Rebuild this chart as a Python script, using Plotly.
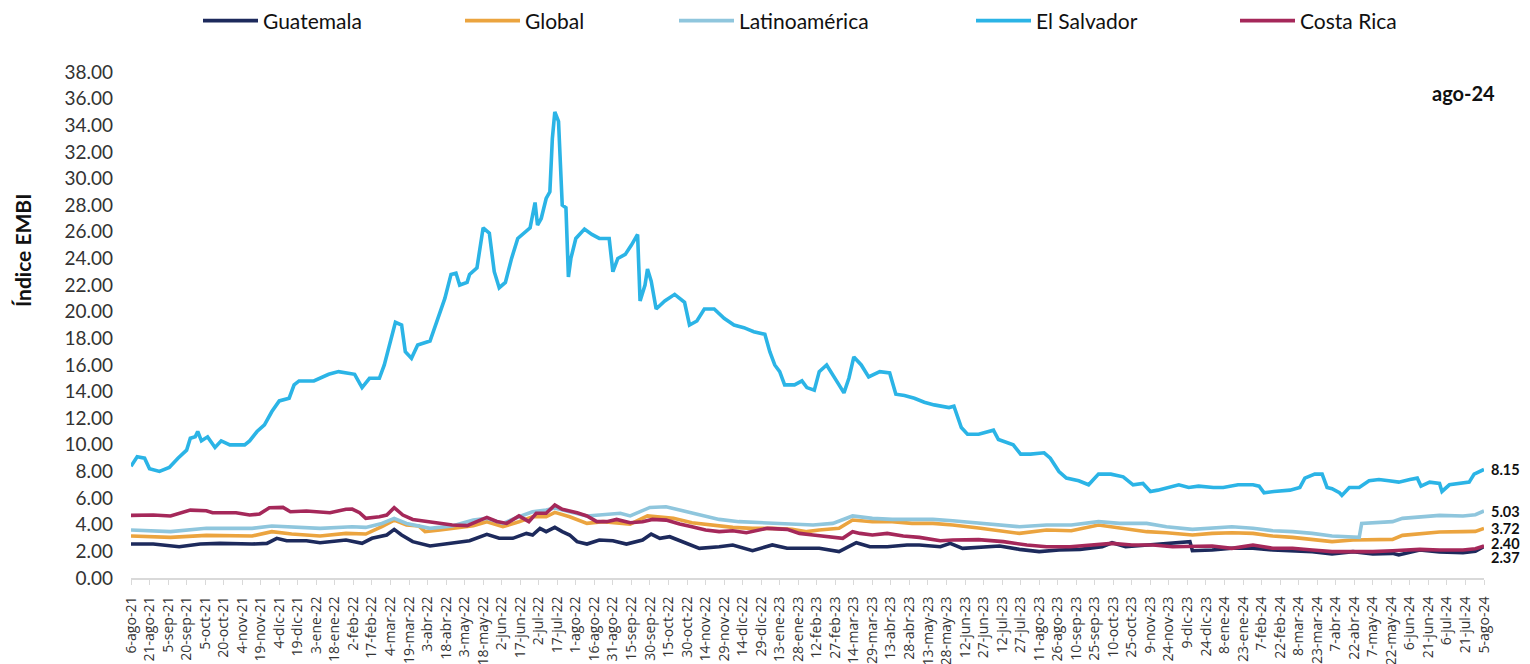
import plotly.graph_objects as go
import pandas as pd

# ---------------- data ----------------
tick_labels = [
    "6-ago-21", "21-ago-21", "5-sep-21", "20-sep-21", "5-oct-21", "20-oct-21", "4-nov-21", "19-nov-21", "4-dic-21", "19-dic-21",
    "3-ene-22", "18-ene-22", "2-feb-22", "17-feb-22", "4-mar-22", "19-mar-22", "3-abr-22", "18-abr-22", "3-may-22", "18-may-22",
    "2-jun-22", "17-jun-22", "2-jul-22", "17-jul-22", "1-ago-22", "16-ago-22", "31-ago-22", "15-sep-22", "30-sep-22", "15-oct-22",
    "30-oct-22", "14-nov-22", "29-nov-22", "14-dic-22", "29-dic-22",
    "13-ene-23", "28-ene-23", "12-feb-23", "27-feb-23", "14-mar-23", "29-mar-23", "13-abr-23", "28-abr-23", "13-may-23", "28-may-23",
    "12-jun-23", "27-jun-23", "12-jul-23", "27-jul-23", "11-ago-23", "26-ago-23", "10-sep-23", "25-sep-23", "10-oct-23", "25-oct-23",
    "9-nov-23", "24-nov-23", "9-dic-23", "24-dic-23",
    "8-ene-24", "23-ene-24", "7-feb-24", "22-feb-24", "8-mar-24", "23-mar-24", "7-abr-24", "22-abr-24", "7-may-24", "22-may-24",
    "6-jun-24", "21-jun-24", "6-jul-24", "21-jul-24", "5-ago-24",
]
tick_start = "2021-08-06"
tick_step_days = 15
x_start = "2021-08-06"
x_end = "2024-08-05"

es_dates = ["2021-08-06", "2021-08-11", "2021-08-17", "2021-08-21", "2021-08-29", "2021-09-06", "2021-09-13", "2021-09-20",
            "2021-09-23", "2021-09-27", "2021-09-29", "2021-10-02", "2021-10-07", "2021-10-13", "2021-10-18", "2021-10-25",
            "2021-11-06", "2021-11-10", "2021-11-16", "2021-11-22", "2021-11-28", "2021-12-04", "2021-12-12", "2021-12-16",
            "2021-12-20", "2022-01-01", "2022-01-13", "2022-01-21", "2022-02-03", "2022-02-09", "2022-02-15", "2022-02-23",
            "2022-02-27", "2022-03-03", "2022-03-08", "2022-03-13", "2022-03-16", "2022-03-21", "2022-03-26", "2022-04-05",
            "2022-04-11", "2022-04-17", "2022-04-22", "2022-04-26", "2022-04-29", "2022-05-05", "2022-05-07", "2022-05-13",
            "2022-05-18", "2022-05-23", "2022-05-27", "2022-05-31", "2022-06-05", "2022-06-10", "2022-06-15", "2022-06-21",
            "2022-06-25", "2022-06-29", "2022-07-01", "2022-07-04", "2022-07-08", "2022-07-11", "2022-07-13", "2022-07-15",
            "2022-07-18", "2022-07-21", "2022-07-24", "2022-07-26", "2022-07-28", "2022-08-01", "2022-08-08", "2022-08-14",
            "2022-08-20", "2022-08-28", "2022-08-31", "2022-09-04", "2022-09-10", "2022-09-15", "2022-09-20", "2022-09-22",
            "2022-09-26", "2022-09-28", "2022-10-01", "2022-10-05", "2022-10-12", "2022-10-20", "2022-10-28", "2022-11-01",
            "2022-11-07", "2022-11-13", "2022-11-21", "2022-11-29", "2022-12-07", "2022-12-15", "2022-12-23", "2023-01-01",
            "2023-01-05", "2023-01-09", "2023-01-13", "2023-01-17", "2023-01-25", "2023-01-31", "2023-02-04", "2023-02-10",
            "2023-02-14", "2023-02-20", "2023-02-25", "2023-03-02", "2023-03-06", "2023-03-10", "2023-03-14", "2023-03-20",
            "2023-03-26", "2023-04-04", "2023-04-12", "2023-04-17", "2023-04-24", "2023-05-02", "2023-05-10", "2023-05-18",
            "2023-05-30", "2023-06-03", "2023-06-09", "2023-06-14", "2023-06-23", "2023-07-01", "2023-07-05", "2023-07-09",
            "2023-07-21", "2023-07-27", "2023-08-04", "2023-08-15", "2023-08-20", "2023-08-27", "2023-09-02", "2023-09-12",
            "2023-09-20", "2023-09-28", "2023-10-08", "2023-10-18", "2023-10-26", "2023-11-03", "2023-11-09", "2023-11-15",
            "2023-11-23", "2023-12-02", "2023-12-10", "2023-12-18", "2023-12-30", "2024-01-07", "2024-01-19", "2024-01-31",
            "2024-02-05", "2024-02-09", "2024-02-17", "2024-03-01", "2024-03-09", "2024-03-13", "2024-03-21", "2024-03-27",
            "2024-03-31", "2024-04-04", "2024-04-10", "2024-04-12", "2024-04-18", "2024-04-26", "2024-05-04", "2024-05-12",
            "2024-05-20", "2024-05-28", "2024-06-06", "2024-06-12", "2024-06-15", "2024-06-22", "2024-06-30", "2024-07-02",
            "2024-07-08", "2024-07-24", "2024-07-28", "2024-08-05"]
es_values = [8.4, 9.1, 9.0, 8.2, 8.0, 8.3, 9.0, 9.6,
             10.5, 10.6, 11.0, 10.3, 10.6, 9.8, 10.3, 10.0,
             10.0, 10.3, 11.0, 11.5, 12.5, 13.3, 13.5, 14.5,
             14.8, 14.8, 15.3, 15.5, 15.3, 14.3, 15.0, 15.0,
             16.0, 17.5, 19.2, 19.0, 17.0, 16.5, 17.5, 17.8,
             19.5, 21.0, 22.8, 22.9, 22.0, 22.2, 22.8, 23.3,
             26.3, 25.9, 23.0, 21.8, 22.2, 24.0, 25.5, 26.0,
             26.3, 28.2, 26.5, 27.0, 28.5, 29.0, 33.0, 35.0,
             34.3, 28.0, 27.8, 22.6, 24.0, 25.5, 26.2, 25.8,
             25.5, 25.5, 23.0, 24.0, 24.3, 25.0, 25.8, 20.8,
             22.0, 23.2, 22.3, 20.2, 20.8, 21.3, 20.7, 19.0,
             19.3, 20.2, 20.2, 19.5, 19.0, 18.8, 18.5, 18.3,
             17.0, 16.0, 15.5, 14.5, 14.5, 14.8, 14.3, 14.1,
             15.5, 16.0, 15.2, 14.5, 13.9, 15.0, 16.6, 16.0,
             15.1, 15.5, 15.4, 13.8, 13.7, 13.5, 13.2, 13.0,
             12.8, 12.9, 11.3, 10.8, 10.8, 11.0, 11.1, 10.4,
             10.0, 9.3, 9.3, 9.4, 9.0, 8.0, 7.5, 7.3,
             7.0, 7.8, 7.8, 7.6, 7.0, 7.1, 6.5, 6.6,
             6.8, 7.0, 6.8, 6.9, 6.8, 6.8, 7.0, 7.0,
             6.9, 6.4, 6.5, 6.6, 6.8, 7.5, 7.8, 7.8,
             6.8, 6.7, 6.4, 6.2, 6.8, 6.8, 7.3, 7.4,
             7.3, 7.2, 7.4, 7.5, 6.9, 7.2, 7.1, 6.5,
             7.0, 7.2, 7.8, 8.15]

cr_dates = ["2021-08-06", "2021-08-24", "2021-09-07", "2021-09-23", "2021-10-06", "2021-10-11", "2021-10-30", "2021-11-10",
            "2021-11-18", "2021-11-26", "2021-12-07", "2021-12-13", "2021-12-26", "2022-01-06", "2022-01-14", "2022-01-27",
            "2022-02-01", "2022-02-07", "2022-02-12", "2022-02-23", "2022-03-01", "2022-03-07", "2022-03-14", "2022-03-22",
            "2022-04-05", "2022-04-23", "2022-05-05", "2022-05-21", "2022-05-29", "2022-06-06", "2022-06-16", "2022-06-24",
            "2022-06-30", "2022-07-08", "2022-07-15", "2022-07-21", "2022-08-02", "2022-08-10", "2022-08-18", "2022-08-26",
            "2022-09-03", "2022-09-14", "2022-09-24", "2022-10-02", "2022-10-13", "2022-10-24", "2022-11-03", "2022-11-14",
            "2022-11-25", "2022-12-06", "2022-12-17", "2023-01-03", "2023-01-19", "2023-01-29", "2023-02-09", "2023-02-25",
            "2023-03-05", "2023-03-13", "2023-03-19", "2023-03-29", "2023-04-10", "2023-04-23", "2023-05-06", "2023-05-23",
            "2023-06-02", "2023-06-23", "2023-07-13", "2023-08-01", "2023-08-17", "2023-09-05", "2023-09-24", "2023-10-09",
            "2023-10-25", "2023-11-11", "2023-11-27", "2023-12-13", "2023-12-29", "2024-01-14", "2024-01-31", "2024-02-16",
            "2024-03-03", "2024-03-19", "2024-04-04", "2024-04-21", "2024-05-07", "2024-05-23", "2024-06-14", "2024-06-30",
            "2024-07-19", "2024-07-29", "2024-08-05"]
cr_values = [4.7, 4.73, 4.66, 5.1, 5.05, 4.9, 4.9, 4.73,
             4.8, 5.28, 5.3, 4.98, 5.03, 4.98, 4.9, 5.16,
             5.18, 4.9, 4.48, 4.6, 4.73, 5.28, 4.73, 4.4,
             4.23, 3.98, 3.93, 4.55, 4.25, 4.1, 4.66, 4.23,
             4.86, 4.86, 5.48, 5.16, 4.9, 4.66, 4.23, 4.23,
             4.4, 4.15, 4.23, 4.4, 4.35, 4.05, 3.85, 3.6,
             3.48, 3.55, 3.4, 3.73, 3.65, 3.35, 3.23, 3.1,
             2.98, 3.48, 3.35, 3.23, 3.35, 3.15, 3.05, 2.8,
             2.85, 2.88, 2.73, 2.48, 2.35, 2.35, 2.48, 2.6,
             2.48, 2.48, 2.35, 2.35, 2.4, 2.23, 2.48, 2.23,
             2.23, 2.1, 1.98, 1.98, 1.98, 2.05, 2.15, 2.1,
             2.1, 2.2, 2.40]

gt_dates = ["2021-08-06", "2021-08-24", "2021-09-14", "2021-10-01", "2021-10-17", "2021-11-12", "2021-11-24", "2021-12-02",
            "2021-12-10", "2021-12-26", "2022-01-06", "2022-01-27", "2022-02-09", "2022-02-17", "2022-03-01", "2022-03-07",
            "2022-03-13", "2022-03-22", "2022-04-05", "2022-04-23", "2022-05-07", "2022-05-21", "2022-05-31", "2022-06-11",
            "2022-06-22", "2022-06-27", "2022-07-03", "2022-07-08", "2022-07-15", "2022-07-21", "2022-07-27", "2022-08-02",
            "2022-08-10", "2022-08-20", "2022-08-31", "2022-09-11", "2022-09-24", "2022-10-01", "2022-10-08", "2022-10-16",
            "2022-10-29", "2022-11-09", "2022-11-25", "2022-12-06", "2022-12-22", "2023-01-07", "2023-01-19", "2023-01-31",
            "2023-02-14", "2023-03-02", "2023-03-16", "2023-03-27", "2023-04-10", "2023-04-26", "2023-05-06", "2023-05-23",
            "2023-05-31", "2023-06-10", "2023-06-23", "2023-07-10", "2023-07-26", "2023-08-11", "2023-08-27", "2023-09-13",
            "2023-10-01", "2023-10-09", "2023-10-20", "2023-11-06", "2023-11-27", "2023-12-11", "2023-12-13", "2023-12-29",
            "2024-01-14", "2024-01-31", "2024-02-16", "2024-03-03", "2024-03-19", "2024-04-04", "2024-04-21", "2024-05-07",
            "2024-05-23", "2024-05-28", "2024-06-14", "2024-06-30", "2024-07-19", "2024-07-29", "2024-08-05"]
gt_values = [2.55, 2.55, 2.35, 2.55, 2.6, 2.55, 2.6, 2.98,
             2.8, 2.8, 2.65, 2.85, 2.6, 2.98, 3.23, 3.65,
             3.23, 2.73, 2.4, 2.65, 2.8, 3.28, 2.98, 2.98,
             3.35, 3.23, 3.73, 3.48, 3.8, 3.48, 3.23, 2.73,
             2.55, 2.85, 2.8, 2.55, 2.85, 3.3, 2.98, 3.1,
             2.65, 2.23, 2.35, 2.48, 2.05, 2.48, 2.23, 2.23,
             2.23, 1.98, 2.65, 2.35, 2.35, 2.48, 2.48, 2.35,
             2.6, 2.23, 2.3, 2.4, 2.15, 1.98, 2.1, 2.15,
             2.35, 2.65, 2.35, 2.48, 2.6, 2.73, 2.05, 2.1,
             2.23, 2.23, 2.1, 2.05, 1.98, 1.8, 1.98, 1.8,
             1.85, 1.73, 2.1, 1.95, 1.9, 2.0, 2.37]

gl_dates = ["2021-08-06", "2021-09-07", "2021-10-06", "2021-11-12", "2021-11-28", "2021-12-14", "2022-01-06", "2022-01-27",
            "2022-02-12", "2022-02-25", "2022-03-07", "2022-03-17", "2022-03-27", "2022-04-01", "2022-04-13", "2022-04-23",
            "2022-05-10", "2022-05-21", "2022-06-03", "2022-06-16", "2022-06-27", "2022-07-08", "2022-07-15", "2022-07-27",
            "2022-08-10", "2022-08-23", "2022-09-06", "2022-09-14", "2022-09-28", "2022-10-08", "2022-10-19", "2022-11-03",
            "2022-11-19", "2022-12-06", "2022-12-22", "2023-01-07", "2023-01-23", "2023-02-04", "2023-02-14", "2023-03-02",
            "2023-03-13", "2023-03-29", "2023-04-14", "2023-04-30", "2023-05-17", "2023-06-02", "2023-06-23", "2023-07-10",
            "2023-07-26", "2023-08-17", "2023-09-06", "2023-09-28", "2023-10-20", "2023-11-06", "2023-11-22", "2023-12-13",
            "2023-12-29", "2024-01-14", "2024-01-31", "2024-02-16", "2024-03-03", "2024-03-19", "2024-04-04", "2024-04-21",
            "2024-05-07", "2024-05-23", "2024-05-31", "2024-06-14", "2024-06-30", "2024-07-19", "2024-07-29", "2024-08-05"]
gl_values = [3.15, 3.05, 3.2, 3.15, 3.48, 3.3, 3.15, 3.35,
             3.3, 3.85, 4.35, 3.98, 3.9, 3.48, 3.6, 3.73,
             3.93, 4.23, 3.85, 4.23, 4.6, 4.6, 4.93, 4.6,
             4.1, 4.23, 4.1, 4.05, 4.66, 4.6, 4.48, 4.15,
             3.98, 3.8, 3.73, 3.73, 3.65, 3.48, 3.6, 3.73,
             4.35, 4.23, 4.23, 4.1, 4.1, 3.98, 3.75, 3.55,
             3.35, 3.6, 3.55, 3.98, 3.73, 3.48, 3.4, 3.23,
             3.35, 3.4, 3.35, 3.15, 3.05, 2.9, 2.73, 2.85,
             2.85, 2.9, 3.2, 3.3, 3.45, 3.48, 3.5, 3.72]

la_dates = ["2021-08-06", "2021-09-07", "2021-10-06", "2021-11-12", "2021-11-28", "2022-01-06", "2022-02-01", "2022-02-12",
            "2022-02-25", "2022-03-07", "2022-03-17", "2022-04-05", "2022-04-23", "2022-05-10", "2022-05-21", "2022-06-03",
            "2022-06-16", "2022-06-27", "2022-07-08", "2022-07-15", "2022-07-27", "2022-08-10", "2022-08-20", "2022-09-06",
            "2022-09-14", "2022-09-30", "2022-10-13", "2022-10-24", "2022-11-09", "2022-11-25", "2022-12-11", "2022-12-27",
            "2023-01-13", "2023-01-29", "2023-02-09", "2023-02-25", "2023-03-13", "2023-03-29", "2023-04-14", "2023-04-30",
            "2023-05-17", "2023-06-02", "2023-06-23", "2023-07-10", "2023-07-26", "2023-08-17", "2023-09-06", "2023-09-28",
            "2023-10-15", "2023-11-06", "2023-11-22", "2023-12-13", "2023-12-29", "2024-01-14", "2024-01-31", "2024-02-16",
            "2024-03-03", "2024-03-19", "2024-04-04", "2024-04-26", "2024-04-28", "2024-05-23", "2024-05-31", "2024-06-14",
            "2024-06-30", "2024-07-19", "2024-07-29", "2024-08-05"]
la_values = [3.6, 3.48, 3.73, 3.73, 3.9, 3.73, 3.85, 3.8,
             4.1, 4.48, 4.1, 3.73, 3.9, 4.35, 4.48, 4.1,
             4.6, 4.98, 5.1, 5.25, 4.98, 4.66, 4.73, 4.86,
             4.66, 5.3, 5.35, 5.1, 4.73, 4.4, 4.23, 4.15,
             4.1, 3.98, 3.98, 4.1, 4.66, 4.48, 4.4, 4.4,
             4.4, 4.3, 4.1, 3.98, 3.85, 3.98, 3.98, 4.23,
             4.1, 4.1, 3.85, 3.65, 3.73, 3.85, 3.73, 3.55,
             3.48, 3.35, 3.15, 3.05, 4.1, 4.23, 4.48, 4.6,
             4.7, 4.66, 4.75, 5.03]

series_names = ["Guatemala", "Global", "Latinoamérica", "El Salvador", "Costa Rica"]
series_dates = [gt_dates, gl_dates, la_dates, es_dates, cr_dates]
series_values = [gt_values, gl_values, la_values, es_values, cr_values]
series_colors = ["#1d2a5c", "#eba43f", "#8fc6dd", "#2bb4e6", "#a5285a"]
end_labels = ["2.37", "3.72", "5.03", "8.15", "2.40"]
end_label_shift = [-11, 0, 0, 0, 3]

y_ticks = list(range(0, 40, 2))
period_label = "ago-24"
y_title = "Índice EMBI"

# ---------------- layout geometry (screen pixels; page body has an 8px margin) ----------------
OFF = 8
W, H = 1530 - OFF, 664 - OFF
PL, PR, PT, PB = 131, 1484, 72, 578          # plot-area edges on screen
ML, MR, MT, MB = PL - OFF, W - (PR - OFF), PT - OFF, H - (PB - OFF)


def paper_x(sx):
    return (sx - PL) / (PR - PL)


def paper_y(sy):
    return (PB - sy) / (PB - PT)


legend_item_width = 55
legend_widths = [192, 144, 227, 194, 110]

# ---------------- figure ----------------
fig = go.Figure()
for name, d, v, c, lw in zip(series_names, series_dates, series_values, series_colors, legend_widths):
    fig.add_trace(go.Scatter(
        x=pd.to_datetime(d), y=v, name=name, mode="lines",
        line=dict(color=c, width=3.6), legendwidth=lw,
        hoverinfo="skip",
    ))

for d, lab, sh in zip(series_dates, end_labels, end_label_shift):
    fig.add_annotation(
        x=pd.to_datetime(d[-1]), y=float(lab), text="<b>%s</b>" % lab,
        xref="x", yref="y", xanchor="left", yanchor="middle",
        xshift=5, yshift=sh, showarrow=False,
        font=dict(family="Lato", size=14.5, color="#111111"),
    )

fig.add_annotation(
    x=paper_x(1497), y=paper_y(93), xref="paper", yref="paper",
    text="<b>%s</b>" % period_label, showarrow=False,
    xanchor="right", yanchor="middle",
    font=dict(family="Lato", size=20, color="#111111"),
)

fig.add_annotation(
    x=paper_x(23), y=paper_y(251), xref="paper", yref="paper",
    text="<b>%s</b>" % y_title, showarrow=False, textangle=-90,
    xanchor="center", yanchor="middle",
    font=dict(family="Lato", size=21, color="#111111"),
)

tickvals = pd.date_range(tick_start, periods=len(tick_labels), freq="%dD" % tick_step_days)

fig.update_layout(
    width=W, height=H,
    margin=dict(l=ML, r=MR, t=MT, b=MB, autoexpand=False),
    plot_bgcolor="white", paper_bgcolor="white",
    showlegend=True,
    legend=dict(
        orientation="h", xref="container", yref="container",
        x=(203 - OFF - 5) / W, y=1 - (21 - OFF) / H, xanchor="left", yanchor="middle",
        font=dict(family="Lato", size=21, color="#111111"),
        itemwidth=legend_item_width, bgcolor="rgba(0,0,0,0)",
    ),
    xaxis=dict(
        type="date", range=[x_start, x_end], automargin=False,
        tickmode="array", tickvals=tickvals, ticktext=tick_labels,
        tickangle=-90, tickfont=dict(family="Open Sans", size=14, color="#333333"),
        showgrid=False, zeroline=False,
        showline=True, linecolor="#d9d9d9", linewidth=2,
        ticks="outside", ticklen=5, tickcolor="#d9d9d9",
        ticklabelstandoff=6,
    ),
    yaxis=dict(
        range=[0, 38], tickmode="array", tickvals=y_ticks, automargin=False,
        ticktext=["%.2f" % t for t in y_ticks],
        tickfont=dict(family="Lato", size=19, color="#333333"),
        showgrid=False, zeroline=False, showline=False,
        ticks="", ticklabelstandoff=17,
    ),
)

fig.write_html("out.html")
